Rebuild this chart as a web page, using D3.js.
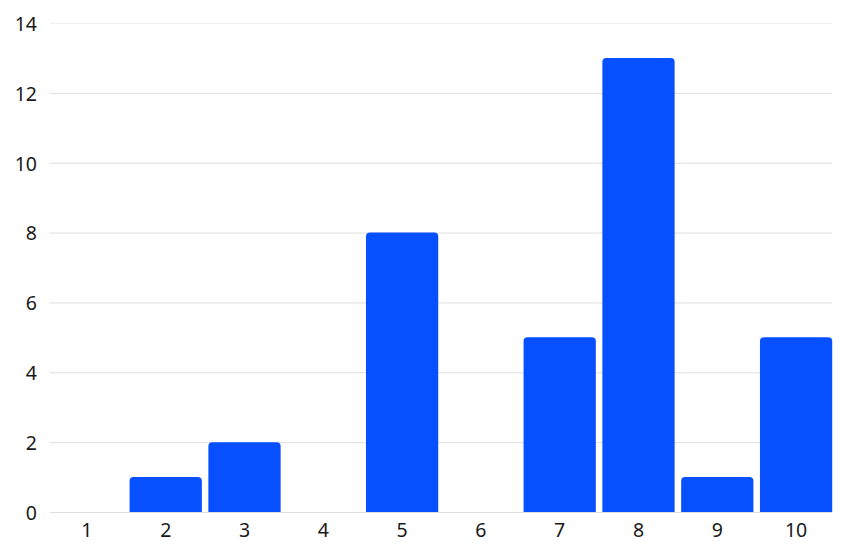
<!DOCTYPE html>
<html><head><meta charset="utf-8">
<script src="https://cdn.jsdelivr.net/npm/d3@7"></script>
<style>body{margin:0;background:#fff;} text{font-family:"Noto Sans",sans-serif;}</style>
</head><body>
<svg id="c" width="849" height="554"></svg>
<script>
const categories = ["1","2","3","4","5","6","7","8","9","10"];
const values = [0,1,2,0,8,0,5,13,1,5];
const yTicks = [0,2,4,6,8,10,12,14];

const svg = d3.select("#c");
const x = d3.scaleBand().domain(categories).range([50,833]).paddingInner(0.083).paddingOuter(0.01);
const y = d3.scaleLinear().domain([0,14]).range([512,23]);

svg.append("g").selectAll("line").data(yTicks).join("line")
  .attr("x1",50).attr("x2",832)
  .attr("y1",d=>y(d)+0.5).attr("y2",d=>y(d)+0.5)
  .attr("stroke",d=>d===14?"#f0f0f0":"#dedede").attr("stroke-width",1);

svg.append("g").selectAll("text").data(yTicks).join("text")
  .attr("x",37).attr("y",d=>y(d)+1).attr("dy","0.35em")
  .attr("text-anchor","end").attr("font-size",19.5).attr("fill","#1a1a1a")
  .text(d=>d);

const r = 4;
svg.append("g").selectAll("path").data(values.map((v,i)=>({c:categories[i],v}))).join("path")
  .filter(d=>d.v>0)
  .attr("fill","#0750ff")
  .attr("d",d=>{
    const x0=x(d.c), w=x.bandwidth(), y0=y(d.v), yb=y(0);
    return `M${x0},${yb}V${y0+r}Q${x0},${y0} ${x0+r},${y0}H${x0+w-r}Q${x0+w},${y0} ${x0+w},${y0+r}V${yb}Z`;
  });

svg.append("g").selectAll("text").data(categories).join("text")
  .attr("x",d=>x(d)+x.bandwidth()/2).attr("y",530).attr("dy","0.35em")
  .attr("text-anchor","middle").attr("font-size",19.5).attr("fill","#1a1a1a")
  .text(d=>d);
</script>
</body></html>
